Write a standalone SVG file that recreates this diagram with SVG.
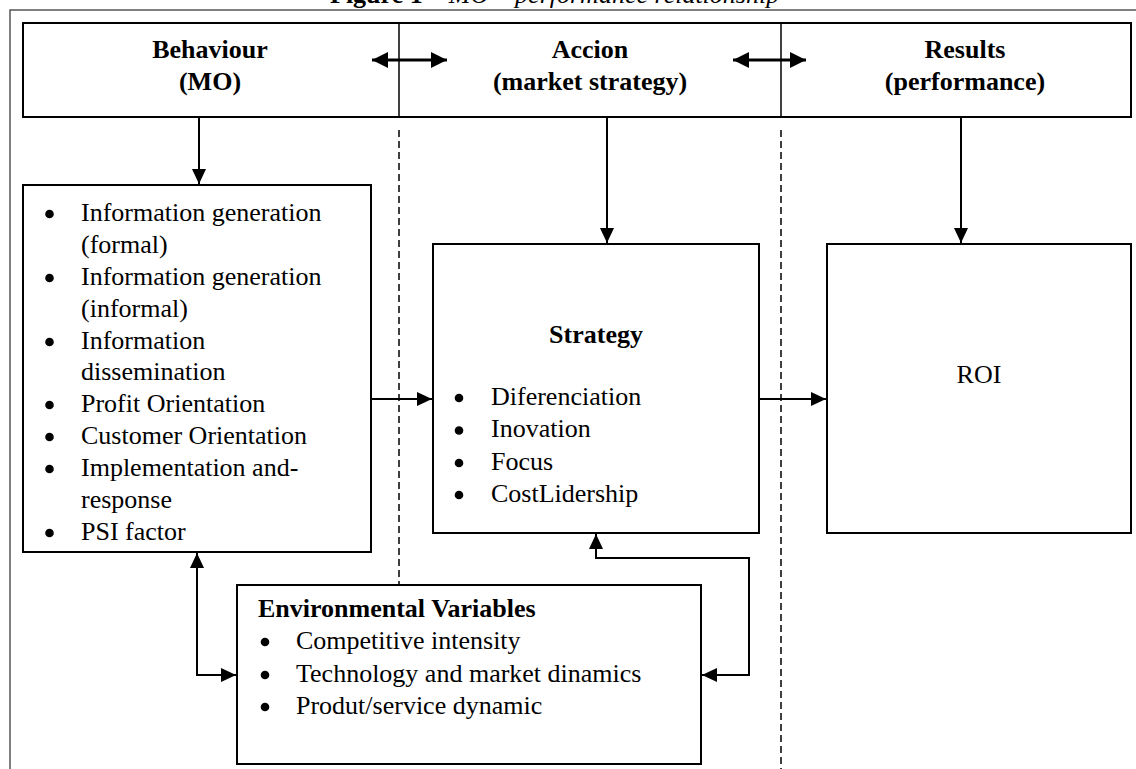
<svg xmlns="http://www.w3.org/2000/svg" width="1136" height="769" viewBox="0 0 1136 769">
  <style>
    text { font-family: "Liberation Serif", "Times New Roman", serif; font-size: 26px; fill: #000; }
    .b { font-weight: bold; }
    .i { font-style: italic; }
    .mid { text-anchor: middle; }
    .box { fill: #fff; stroke: #000; stroke-width: 2; }
    .frame { fill: none; stroke: #555; stroke-width: 1.5; }
    .div { stroke: #000; stroke-width: 1.5; }
    .dash { stroke: #000; stroke-width: 1.5; stroke-dasharray: 7 4; fill: none; }
    .con { fill: none; stroke: #000; stroke-width: 2; }
    .con2 { fill: none; stroke: #000; stroke-width: 3; }
    .dot { fill: #000; }
  </style>
  <defs>
    <marker id="ah" markerUnits="userSpaceOnUse" markerWidth="16" markerHeight="14" refX="15" refY="7" orient="auto-start-reverse">
      <path d="M0,0 L15,7 L0,14 z" fill="#000"/>
    </marker>
    <marker id="ah2" markerUnits="userSpaceOnUse" markerWidth="17" markerHeight="16" refX="16" refY="8" orient="auto-start-reverse">
      <path d="M0,0 L16,8 L0,16 z" fill="#000"/>
    </marker>
  </defs>

  <rect width="1136" height="769" fill="#fff"/>

  <g id="title">
    <text x="330" y="3"><tspan class="b">Figure 1</tspan><tspan class="i"> – MO – performance relationship</tspan></text>
  </g>

  <path class="frame" d="M10,769 V10 H1136"/>

  <g id="dividers">
    <line class="dash" x1="399" y1="130" x2="399" y2="585"/>
    <line class="dash" x1="781" y1="130" x2="781" y2="769"/>
  </g>

  <g id="header">
    <rect class="box" x="23" y="23" width="1108" height="94"/>
    <line class="div" x1="399" y1="23" x2="399" y2="117"/>
    <line class="div" x1="781" y1="23" x2="781" y2="117"/>
    <text class="b mid" x="210" y="58">Behaviour</text>
    <text class="b mid" x="210" y="90">(MO)</text>
    <text class="b mid" x="590" y="58">Accion</text>
    <text class="b mid" x="590" y="90">(market strategy)</text>
    <text class="b mid" x="965" y="58">Results</text>
    <text class="b mid" x="965" y="90">(performance)</text>
  </g>

  <g id="mo-box">
    <rect class="box" x="23" y="185" width="348" height="367"/>
    <circle class="dot" cx="49.5" cy="214" r="4.3"/><text x="81" y="221">Information generation</text>
    <text x="81" y="253">(formal)</text>
    <circle class="dot" cx="49.5" cy="278" r="4.3"/><text x="81" y="285">Information generation</text>
    <text x="81" y="317">(informal)</text>
    <circle class="dot" cx="49.5" cy="342" r="4.3"/><text x="81" y="349">Information</text>
    <text x="81" y="380">dissemination</text>
    <circle class="dot" cx="49.5" cy="405" r="4.3"/><text x="81" y="412">Profit Orientation</text>
    <circle class="dot" cx="49.5" cy="437" r="4.3"/><text x="81" y="444">Customer Orientation</text>
    <circle class="dot" cx="49.5" cy="469" r="4.3"/><text x="81" y="476">Implementation and-</text>
    <text x="81" y="508">response</text>
    <circle class="dot" cx="49.5" cy="533" r="4.3"/><text x="81" y="540">PSI factor</text>
  </g>

  <g id="strategy-box">
    <rect class="box" x="433" y="244" width="326" height="289"/>
    <text class="b mid" x="596" y="343">Strategy</text>
    <circle class="dot" cx="459" cy="398" r="4.3"/><text x="491" y="405">Diferenciation</text>
    <circle class="dot" cx="459" cy="430.5" r="4.3"/><text x="491" y="437">Inovation</text>
    <circle class="dot" cx="459" cy="463" r="4.3"/><text x="491" y="470">Focus</text>
    <circle class="dot" cx="459" cy="495" r="4.3"/><text x="491" y="502">CostLidership</text>
  </g>

  <g id="roi-box">
    <rect class="box" x="827" y="244" width="304" height="289"/>
    <text class="mid" x="979" y="383">ROI</text>
  </g>

  <g id="env-box">
    <rect class="box" x="237" y="585" width="464" height="179"/>
    <text class="b" x="258" y="617">Environmental Variables</text>
    <circle class="dot" cx="265" cy="642" r="4.3"/><text x="296" y="649">Competitive intensity</text>
    <circle class="dot" cx="265" cy="675" r="4.3"/><text x="296" y="682">Technology and market dinamics</text>
    <circle class="dot" cx="265" cy="707" r="4.3"/><text x="296" y="714">Produt/service dynamic</text>
  </g>

  <g id="connectors">
    <path class="con2" d="M372,60 H447" marker-start="url(#ah2)" marker-end="url(#ah2)"/>
    <path class="con2" d="M733,60 H806" marker-start="url(#ah2)" marker-end="url(#ah2)"/>
    <path class="con" d="M199,117 V184" marker-end="url(#ah)"/>
    <path class="con" d="M607,117 V243" marker-end="url(#ah)"/>
    <path class="con" d="M961,117 V243" marker-end="url(#ah)"/>
    <path class="con" d="M371,399 H432" marker-end="url(#ah)"/>
    <path class="con" d="M759,399 H826" marker-end="url(#ah)"/>
    <path class="con" d="M197,553 V675 H236" marker-start="url(#ah)" marker-end="url(#ah)"/>
    <path class="con" d="M596,534 V558 H749 V675 H702" marker-start="url(#ah)" marker-end="url(#ah)"/>
  </g>
</svg>
